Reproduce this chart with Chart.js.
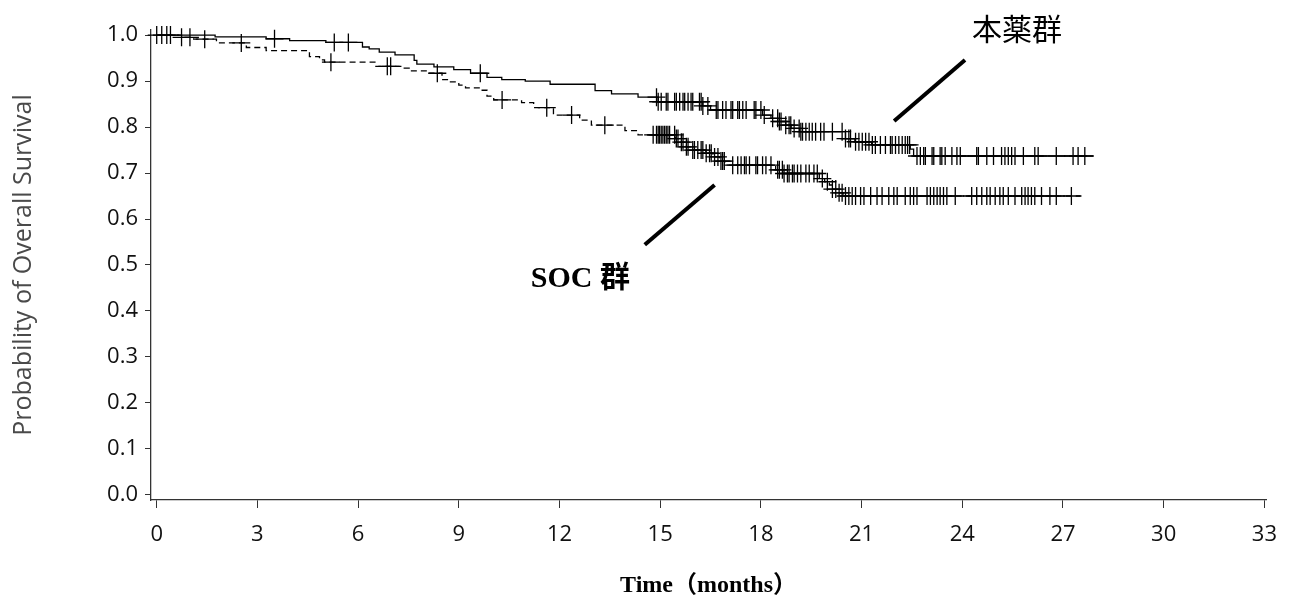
<!DOCTYPE html>
<html>
<head>
<meta charset="utf-8">
<script src="https://cdn.jsdelivr.net/npm/chart.js@4"></script>
<style>
  html, body { margin: 0; padding: 0; background: #fff; }
  #wrap { width: 1291px; height: 607px; }
</style>
</head>
<body>
<div id="wrap"><canvas id="km"></canvas></div>
<script>
// tick labels
const xTicks = [0, 3, 6, 9, 12, 15, 18, 21, 24, 27, 30, 33];
const yTicks = [0, 0.1, 0.2, 0.3, 0.4, 0.5, 0.6, 0.7, 0.8, 0.9, 1.0];

// 本薬群: event times (months) and survival after each event
const drugTimes = [0, 1.74, 3.26, 3.96, 5.04, 6.13, 6.33, 6.63, 7.1, 7.67, 7.75, 8.26, 8.85, 9.35, 9.84, 10.28, 10.98, 11.72, 13.06, 13.55, 14.34, 14.94, 16.27, 16.5, 18.05, 18.3, 18.55, 18.74, 18.9, 19.15, 20.52, 20.8, 21.3, 22.45, 22.55, 27.9];
const drugSurv  = [1.0, 0.996, 0.992, 0.988, 0.984, 0.974, 0.970, 0.963, 0.957, 0.945, 0.937, 0.931, 0.925, 0.917, 0.908, 0.903, 0.900, 0.893, 0.879, 0.872, 0.865, 0.855, 0.846, 0.837, 0.826, 0.819, 0.812, 0.804, 0.797, 0.790, 0.775, 0.768, 0.761, 0.752, 0.737, 0.737];
const drugCensor = [0.0, 0.15, 0.3, 0.41, 3.51, 5.29, 5.71, 9.64,
  14.89, 14.94, 15.03, 15.18, 15.23, 15.43, 15.48, 15.58, 15.68, 15.73, 15.83, 15.92, 15.97, 16.17, 16.22, 16.27,
  16.42, 16.67, 16.72, 16.86, 16.96, 17.11, 17.16, 17.31, 17.36, 17.46, 17.56, 17.8, 17.85, 18.0, 18.1, 18.35,
  18.5, 18.55, 18.6, 18.74, 18.84, 18.89, 18.99, 19.14, 19.19, 19.24, 19.34, 19.44, 19.53, 19.63, 19.78, 19.88,
  20.13, 20.42, 20.52, 20.62, 20.67, 20.82, 20.92, 21.02, 21.12, 21.22, 21.32, 21.41, 21.56, 21.71, 21.86,
  21.91, 22.01, 22.11, 22.21, 22.3, 22.37, 22.43, 22.65, 22.75, 22.85, 22.9, 23.1, 23.15, 23.34, 23.39, 23.49,
  23.69, 23.84, 23.94, 24.43, 24.48, 24.73, 24.93, 25.17, 25.27, 25.37, 25.47, 25.57, 25.82, 26.16, 26.26,
  26.8, 27.3, 27.45, 27.65];

// SOC群
const socTimes = [0, 0.74, 1.1, 1.78, 2.67, 3.26, 4.55, 4.85, 5.0, 6.53, 7.3, 7.52, 8.05, 8.5, 8.7, 9.0, 9.2, 9.64, 9.84, 10.04, 10.87, 11.23, 11.82, 12.6, 12.95, 13.95, 14.34, 15.45, 15.6, 15.77, 15.97, 16.36, 16.57, 16.77, 16.92, 18.44, 18.65, 19.74, 19.9, 20.04, 20.13, 20.3, 20.45, 27.55];
const socSurv  = [1.0, 0.995, 0.991, 0.983, 0.973, 0.966, 0.953, 0.946, 0.941, 0.932, 0.928, 0.922, 0.917, 0.903, 0.898, 0.891, 0.885, 0.880, 0.867, 0.859, 0.853, 0.842, 0.826, 0.815, 0.804, 0.792, 0.783, 0.775, 0.767, 0.757, 0.750, 0.743, 0.735, 0.726, 0.717, 0.707, 0.699, 0.688, 0.681, 0.674, 0.665, 0.657, 0.650, 0.650];
const socCensor = [0.74, 0.99, 1.43, 2.52, 5.19, 6.87, 6.97, 8.36, 10.29, 11.62, 12.36, 13.35,
  14.79, 14.89, 14.94, 14.98, 15.03, 15.08, 15.13, 15.18, 15.23, 15.28, 15.43, 15.48, 15.53, 15.63, 15.68,
  15.78, 15.83, 15.97, 16.02, 16.12, 16.22, 16.27, 16.37, 16.47, 16.52, 16.62, 16.72, 16.81, 16.86, 16.91,
  17.16, 17.31, 17.41, 17.51, 17.56, 17.66, 17.85, 17.9, 18.05, 18.15, 18.3, 18.5, 18.55, 18.64, 18.69,
  18.79, 18.84, 18.94, 18.99, 19.09, 19.19, 19.34, 19.44, 19.58, 19.68, 19.83, 19.98, 20.13, 20.23, 20.33,
  20.42, 20.52, 20.62, 20.72, 20.82, 20.97, 21.07, 21.27, 21.46, 21.61, 21.81,
  21.96, 22.06, 22.3, 22.45, 22.55, 22.65, 22.95, 23.05, 23.15, 23.25, 23.34, 23.44, 23.54, 23.79, 24.28,
  24.43, 24.58, 24.73, 24.83, 24.98, 25.12, 25.22, 25.37, 25.57, 25.77, 25.87, 25.96, 26.06, 26.16, 26.36,
  26.61, 26.8, 27.25];

// group labels with leader lines (data coordinates)
const groupLabels = ['本薬群', 'SOC 群'];
const labelAt = [[25.63, 1.014], [12.62, 0.470]];
const leaderFrom = [[21.97, 0.813], [14.54, 0.544]];
const leaderTo = [[24.08, 0.946], [16.62, 0.674]];

function survAt(times, surv, t) {
    let s = surv[0];
    for (let i = 0; i < times.length; i++) {
        if (times[i] <= t) s = surv[i];
    }
    return s;
}

const curve = (times, surv) => times.map((t, i) => ({ x: t, y: surv[i] }));
const marks = (cens, times, surv) => cens.map(t => ({ x: t, y: survAt(times, surv, t) }));

const labelPlugin = {
    id: 'groupLabels',
    afterDatasetsDraw(chart) {
        const { ctx, scales: { x, y } } = chart;
        ctx.save();
        ctx.strokeStyle = '#000';
        ctx.lineWidth = 4;
        leaderFrom.forEach((p, i) => {
            ctx.beginPath();
            ctx.moveTo(x.getPixelForValue(p[0]), y.getPixelForValue(p[1]));
            ctx.lineTo(x.getPixelForValue(leaderTo[i][0]), y.getPixelForValue(leaderTo[i][1]));
            ctx.stroke();
        });
        ctx.fillStyle = '#000';
        ctx.textAlign = 'center';
        ctx.textBaseline = 'middle';
        ctx.font = '30px "Noto Sans CJK JP"';
        ctx.fillText(groupLabels[0], x.getPixelForValue(labelAt[0][0]), y.getPixelForValue(labelAt[0][1]));
        ctx.font = 'bold 30px "Liberation Serif", "Noto Sans CJK JP"';
        ctx.fillText(groupLabels[1], x.getPixelForValue(labelAt[1][0]), y.getPixelForValue(labelAt[1][1]));
        ctx.restore();
    }
};

const tickFont = { family: '"Open Sans", sans-serif', size: 22 };

new Chart(document.getElementById('km'), {
    type: 'scatter',
    data: {
        datasets: [
            {
                label: '本薬群',
                data: curve(drugTimes, drugSurv),
                showLine: true, stepped: true,
                borderColor: '#000', borderWidth: 1.3,
                pointRadius: 0
            },
            {
                label: '本薬群 censored',
                data: marks(drugCensor, drugTimes, drugSurv),
                pointStyle: 'cross', pointRadius: 9,
                borderColor: '#000', borderWidth: 1.3,
                clip: false
            },
            {
                label: 'SOC群',
                data: curve(socTimes, socSurv),
                showLine: true, stepped: true,
                borderColor: '#000', borderWidth: 1.3, borderDash: [6, 4],
                pointRadius: 0
            },
            {
                label: 'SOC群 censored',
                data: marks(socCensor, socTimes, socSurv),
                pointStyle: 'cross', pointRadius: 9,
                borderColor: '#000', borderWidth: 1.3,
                clip: false
            }
        ]
    },
    options: {
        responsive: true,
        maintainAspectRatio: false,
        animation: false,
        layout: { padding: { top: 30, right: 21, left: 0, bottom: 0 } },
        plugins: { legend: { display: false }, tooltip: { enabled: false } },
        scales: {
            x: {
                type: 'linear',
                min: -0.17, max: 33.05,
                afterFit: s => { s.height = 107; },
                afterBuildTicks: s => { s.ticks = xTicks.map(v => ({ value: v })); },
                border: { color: '#333', width: 1.3 },
                grid: { drawOnChartArea: false, color: '#333', tickLength: 8 },
                ticks: { font: tickFont, color: '#111', padding: 14, maxRotation: 0 },
                title: {
                    display: true, text: 'Time（months）', color: '#000',
                    font: { family: '"Liberation Serif", "Noto Sans CJK JP", serif', size: 24, weight: 'bold' },
                    padding: { top: 0, bottom: 7 }
                }
            },
            y: {
                type: 'linear',
                min: -0.011, max: 1.011,
                afterFit: s => { s.width = 151; },
                afterBuildTicks: s => { s.ticks = yTicks.map(v => ({ value: v })); },
                border: { color: '#333', width: 1.3 },
                grid: { drawOnChartArea: false, color: '#333', tickLength: 6 },
                ticks: { font: tickFont, color: '#111', padding: 7, callback: v => v.toFixed(1) },
                title: {
                    display: true, text: 'Probability of Overall Survival', color: '#4a4a4a',
                    font: { family: '"Open Sans", sans-serif', size: 25 },
                    padding: { top: 9, bottom: 0 }
                }
            }
        }
    },
    plugins: [labelPlugin]
});
</script>
</body>
</html>
